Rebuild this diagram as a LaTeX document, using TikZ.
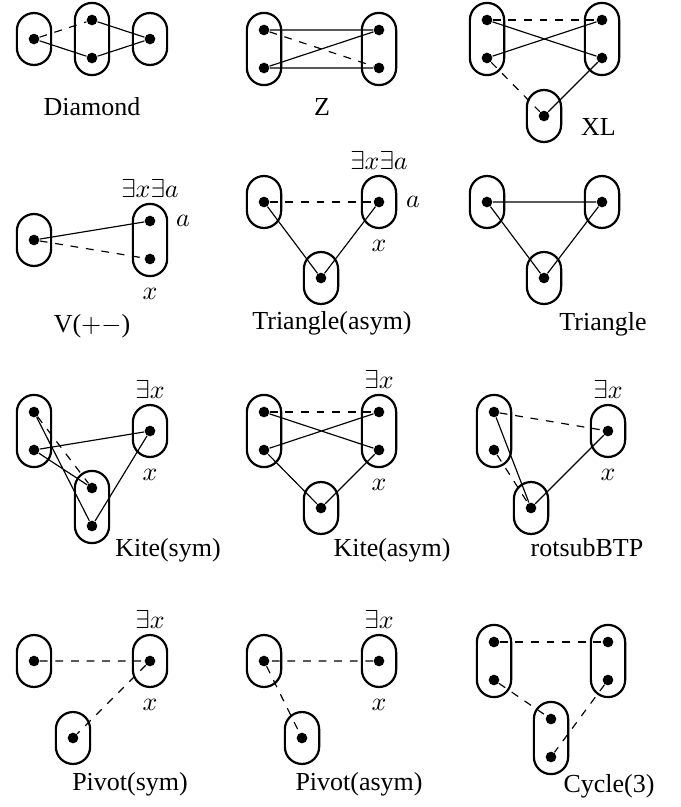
\documentclass[tikz,border=0pt]{standalone}
\usepackage{amsmath}
\usepackage{fontspec}
\setmainfont{Liberation Serif}
\usetikzlibrary{positioning}
\begin{document}
\begin{tikzpicture}[x=0.385pt, y=-0.385pt,
  vtx/.style={circle, fill, inner sep=0pt, minimum size=4.1pt},
  one/.style={draw, line width=0.85pt, rounded corners=6.6pt, inner sep=0pt, minimum width=13.2pt, minimum height=20pt},
  two/.style={one, minimum height=27.8pt},
  lbl/.style={inner sep=0pt},
  ln/.style={line width=0.45pt},
  neg/.style={ln, dashed}]
\useasboundingbox (0,0) rectangle (680,807);

\node [one] (dmX) at (34,39) {};
\node [two] (dmY) at (92,39) {};
\node [one] (dmZ) at (150,39) {};
\node [vtx] (dmA) at (34,39) {};
\node [vtx] (dmB) at (92,20) {};
\node [vtx] (dmC) at (92,58) {};
\node [vtx] (dmD) at (150,39) {};
\draw [neg] (dmA) -- (dmB);
\draw [ln] (dmA) -- (dmC) -- (dmD) -- (dmB);
\node (dmN) at (92,107) {Diamond};

\node [two] (zX) at (264,49) {};
\node [two] (zY) at (379,49) {};
\node [vtx] (zA) at (264,30) {};
\node [vtx] (zB) at (264,68) {};
\node [vtx] (zC) at (379,30) {};
\node [vtx] (zD) at (379,68) {};
\draw [ln] (zA) -- (zC) -- (zB) -- (zD);
\draw [neg] (zA) -- (zD);
\node (zN) at (322,107) {Z};

\node [two] (xlX) at (487,39) {};
\node [two] (xlY) at (602,39) {};
\node [one] (xlZ) at (544,116) {};
\node [vtx] (xlA) at (487,20) {};
\node [vtx] (xlB) at (487,58) {};
\node [vtx] (xlC) at (602,20) {};
\node [vtx] (xlD) at (602,58) {};
\node [vtx] (xlE) at (544,116) {};
\draw [neg] (xlA) -- (xlC);
\draw [ln] (xlA) -- (xlD) -- (xlE);
\draw [ln] (xlB) -- (xlC);
\draw [neg] (xlB) -- (xlE);
\node [anchor=west] (xlN) at (572,127) {XL};

\node [one] (vX) at (34,240) {};
\node [two] (vY) at (150,240) {};
\node [vtx] (vA) at (34,240) {};
\node [vtx] (vB) at (150,221) {};
\node [vtx] (vC) at (150,259) {};
\draw [ln] (vA) -- (vB);
\draw [neg] (vA) -- (vC);
\node [lbl, above=2pt of vY] (vQ) {$\exists x\exists a$};
\node [lbl] (va) at (183,221) {$a$};
\node [lbl, below=4pt of vY] (vx) {$x$};
\node (vN) at (92,326) {V($+-$)};

\node [one] (taX) at (264,202) {};
\node [one] (taY) at (379,202) {};
\node [one] (taZ) at (321,278) {};
\node [vtx] (taA) at (264,202) {};
\node [vtx] (taB) at (379,202) {};
\node [vtx] (taC) at (321,278) {};
\draw [neg] (taA) -- (taB);
\draw [ln] (taA) -- (taC) -- (taB);
\node [lbl, above=2pt of taY] (taQ) {$\exists x\exists a$};
\node [lbl] (taa) at (413,202) {$a$};
\node [lbl, below=4pt of taY] (tax) {$x$};
\node (taN) at (332,323) {Triangle(asym)};

\node [one] (trX) at (487,202) {};
\node [one] (trY) at (602,202) {};
\node [one] (trZ) at (544,278) {};
\node [vtx] (trA) at (487,202) {};
\node [vtx] (trB) at (602,202) {};
\node [vtx] (trC) at (544,278) {};
\draw [ln] (trA) -- (trB) -- (trC) -- (trA);
\node (trN) at (603,324) {Triangle};

\node [two] (ksX) at (34,431) {};
\node [one] (ksY) at (150,431) {};
\node [two] (ksZ) at (92,507) {};
\node [vtx] (ksA) at (34,412) {};
\node [vtx] (ksB) at (34,450) {};
\node [vtx] (ksC) at (150,431) {};
\node [vtx] (ksD) at (92,488) {};
\node [vtx] (ksE) at (92,526) {};
\draw [ln] (ksA) -- (ksE) -- (ksC) -- (ksB) -- (ksD);
\draw [neg] (ksA) -- (ksD);
\node [lbl, above=2pt of ksY] (ksQ) {$\exists x$};
\node [lbl, below=4pt of ksY] (ksx) {$x$};
\node (ksN) at (168,550) {Kite(sym)};

\node [two] (kaX) at (264,431) {};
\node [two] (kaY) at (379,431) {};
\node [one] (kaZ) at (321,508) {};
\node [vtx] (kaA) at (264,412) {};
\node [vtx] (kaB) at (264,450) {};
\node [vtx] (kaC) at (379,412) {};
\node [vtx] (kaD) at (379,450) {};
\node [vtx] (kaE) at (321,508) {};
\draw [neg] (kaA) -- (kaC);
\draw [ln] (kaA) -- (kaD) -- (kaE) -- (kaB) -- (kaC);
\node [lbl, above=2pt of kaY] (kaQ) {$\exists x$};
\node [lbl, below=4pt of kaY] (kax) {$x$};
\node (kaN) at (392,550) {Kite(asym)};

\node [two] (rbX) at (494,431) {};
\node [one] (rbY) at (608,431) {};
\node [one] (rbZ) at (531,508) {};
\node [vtx] (rbA) at (494,412) {};
\node [vtx] (rbB) at (494,450) {};
\node [vtx] (rbC) at (608,431) {};
\node [vtx] (rbD) at (531,508) {};
\draw [neg] (rbA) -- (rbC);
\draw [ln] (rbA) -- (rbD) -- (rbC);
\draw [neg] (rbB) -- (rbD);
\node [lbl, above=2pt of rbY] (rbQ) {$\exists x$};
\node [lbl, below=4pt of rbY] (rbx) {$x$};
\node (rbN) at (587,548) {rotsubBTP};

\node [one] (psX) at (34,661) {};
\node [one] (psY) at (150,661) {};
\node [one] (psZ) at (73,738) {};
\node [vtx] (psA) at (34,661) {};
\node [vtx] (psB) at (150,661) {};
\node [vtx] (psC) at (73,738) {};
\draw [neg] (psA) -- (psB) -- (psC);
\node [lbl, above=2pt of psY] (psQ) {$\exists x$};
\node [lbl, below=4pt of psY] (psx) {$x$};
\node (psN) at (130,784) {Pivot(sym)};

\node [one] (paX) at (264,661) {};
\node [one] (paY) at (379,661) {};
\node [one] (paZ) at (302,738) {};
\node [vtx] (paA) at (264,661) {};
\node [vtx] (paB) at (379,661) {};
\node [vtx] (paC) at (302,738) {};
\draw [neg] (paB) -- (paA) -- (paC);
\node [lbl, above=2pt of paY] (paQ) {$\exists x$};
\node [lbl, below=4pt of paY] (pax) {$x$};
\node (paN) at (359,784) {Pivot(asym)};

\node [two] (cyX) at (494,661) {};
\node [two] (cyY) at (608,661) {};
\node [two] (cyZ) at (551,738) {};
\node [vtx] (cyA) at (494,642) {};
\node [vtx] (cyB) at (494,680) {};
\node [vtx] (cyC) at (608,642) {};
\node [vtx] (cyD) at (608,680) {};
\node [vtx] (cyE) at (551,719) {};
\node [vtx] (cyF) at (551,757) {};
\draw [neg] (cyA) -- (cyC);
\draw [neg] (cyB) -- (cyE);
\draw [neg] (cyD) -- (cyF);
\node (cyN) at (609,786) {Cycle(3)};
\end{tikzpicture}
\end{document}
